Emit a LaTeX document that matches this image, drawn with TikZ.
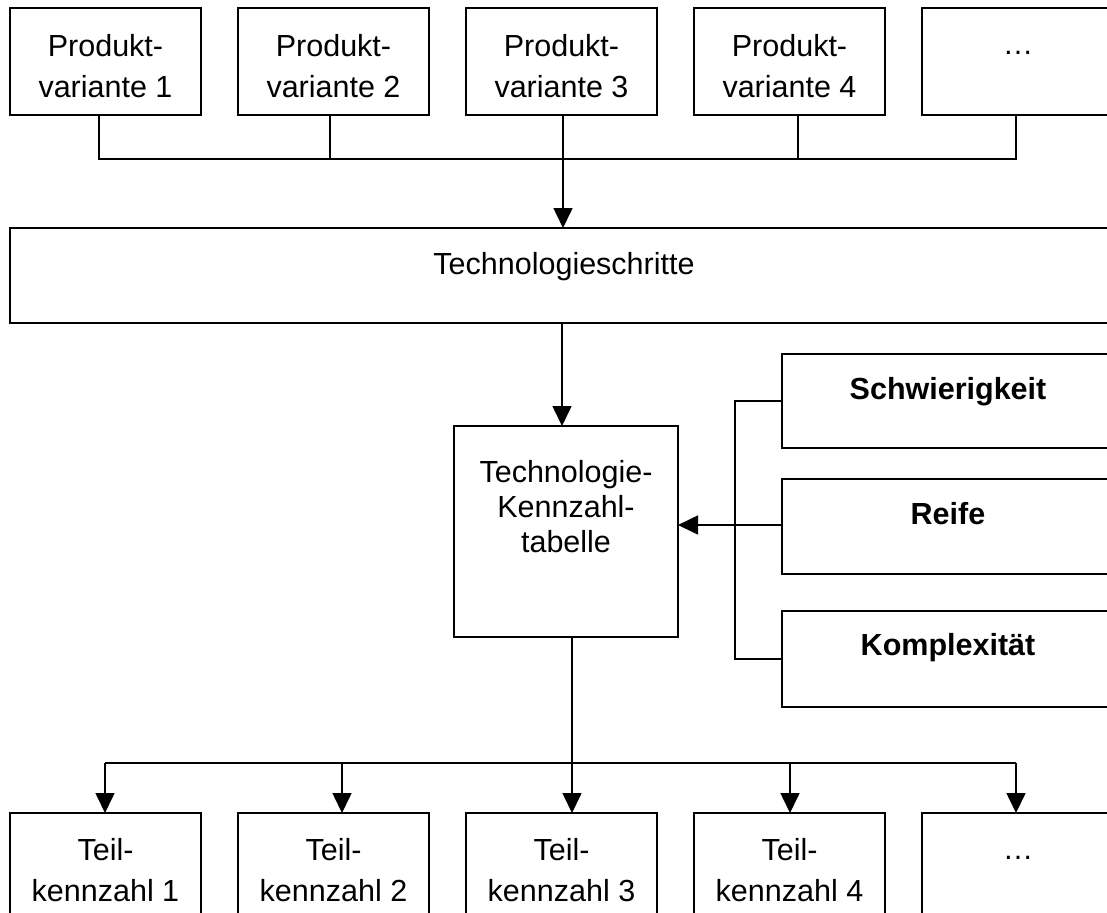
\documentclass[tikz,border=0pt]{standalone}
\usepackage{fontspec}
\setmainfont{Liberation Sans}
\usetikzlibrary{arrows.meta}
\begin{document}
\begin{tikzpicture}[x=1pt,y=-1pt,
  line width=1.6pt,
  box/.style={draw, rectangle, inner sep=0pt, outer sep=0pt},
  small/.style={box, minimum width=191pt, minimum height=107pt},
  crit/.style={box, minimum width=332pt},
  txt/.style={inner sep=0pt, align=center, anchor=north,
    font=\fontsize{30.5}{41}\selectfont},
  tabtxt/.style={txt, font=\fontsize{30.5}{35.4}\selectfont},
  one/.style={inner sep=0pt, anchor=base, font=\fontsize{30.5}{37}\selectfont},
  bold/.style={one, font=\fontsize{30.5}{37}\selectfont\bfseries},
  arr/.style={-{Triangle[length=20pt,width=19pt]}}
]
\useasboundingbox (0,0) rectangle (1107,912);
\clip (0,0) rectangle (1107,912);

% product variants
\node[small] (p1) at (105.5,61.5) {};
\node[small] (p2) at (333.5,61.5) {};
\node[small] (p3) at (561.5,61.5) {};
\node[small] (p4) at (789.5,61.5) {};
\node[small] (p5) at (1017.5,61.5) {};
\node[txt] (p1t) at (105.5,33.2) {Produkt-\\variante 1};
\node[txt] (p2t) at (333.5,33.2) {Produkt-\\variante 2};
\node[txt] (p3t) at (561.5,33.2) {Produkt-\\variante 3};
\node[txt] (p4t) at (789.5,33.2) {Produkt-\\variante 4};
\node[one] (p5t) at (1018,55) {…};

% technology steps
\node[box, minimum width=1108pt, minimum height=95pt] (ts) at (564,275.5) {};
\node[one] (tst) at (564,274) {Technologieschritte};

% key figure table
\node[box, minimum width=224pt, minimum height=211pt] (kt) at (566,531.5) {};
\node[tabtxt] (ktt) at (566,459.2) {Technologie-\\Kennzahl-\\tabelle};

% criteria
\node[crit, minimum height=94pt] (sw) at (948,401) {};
\node[bold] (swt) at (948,399.5) {Schwierigkeit};
\node[crit, minimum height=95pt] (rf) at (948,526.5) {};
\node[bold] (rft) at (948,524) {Reife};
\node[crit, minimum height=96pt] (ko) at (948,659) {};
\node[bold] (kot) at (948,655.5) {Komplexität};

% partial key figures
\node[small] (k1) at (105.5,866.5) {};
\node[small] (k2) at (333.5,866.5) {};
\node[small] (k3) at (561.5,866.5) {};
\node[small] (k4) at (789.5,866.5) {};
\node[small] (k5) at (1017.5,866.5) {};
\node[txt] (k1t) at (105.5,837.2) {Teil-\\kennzahl 1};
\node[txt] (k2t) at (333.5,837.2) {Teil-\\kennzahl 2};
\node[txt] (k3t) at (561.5,837.2) {Teil-\\kennzahl 3};
\node[txt] (k4t) at (789.5,837.2) {Teil-\\kennzahl 4};
\node[one] (k5t) at (1018,859) {…};

% upper collecting line
\coordinate (d1) at (99,159);
\coordinate (d2) at (330,159);
\coordinate (d3) at (563,159);
\coordinate (d4) at (798,159);
\coordinate (d5) at (1016,159);
\draw (p1.south -| d1) -- (d1) -- (d5) -- (p5.south -| d5);
\draw (p2.south -| d2) -- (d2);
\draw (p3.south -| d3) -- (d3);
\draw (p4.south -| d4) -- (d4);
\draw[arr] (d3) -- (ts.north -| d3);

% steps to table
\coordinate (a1) at (562,0);
\draw[arr] (ts.south -| a1) -- (kt.north -| a1);

% criteria into table
\coordinate (br) at (735,0);
\coordinate (ra) at (0,525);
\draw (sw.west) -- (sw.west -| br) -- (ko.west -| br) -- (ko.west);
\draw[arr] (rf.west |- ra) -- (kt.east |- ra);

% lower distribution line
\coordinate (b1) at (105,763);
\coordinate (b2) at (342,763);
\coordinate (b3) at (572,763);
\coordinate (b4) at (790,763);
\coordinate (b5) at (1016,763);
\draw (kt.south -| b3) -- (b3);
\draw (b1) -- (b5);
\draw[arr] (b1) -- (k1.north -| b1);
\draw[arr] (b2) -- (k2.north -| b2);
\draw[arr] (b3) -- (k3.north -| b3);
\draw[arr] (b4) -- (k4.north -| b4);
\draw[arr] (b5) -- (k5.north -| b5);
\end{tikzpicture}
\end{document}
